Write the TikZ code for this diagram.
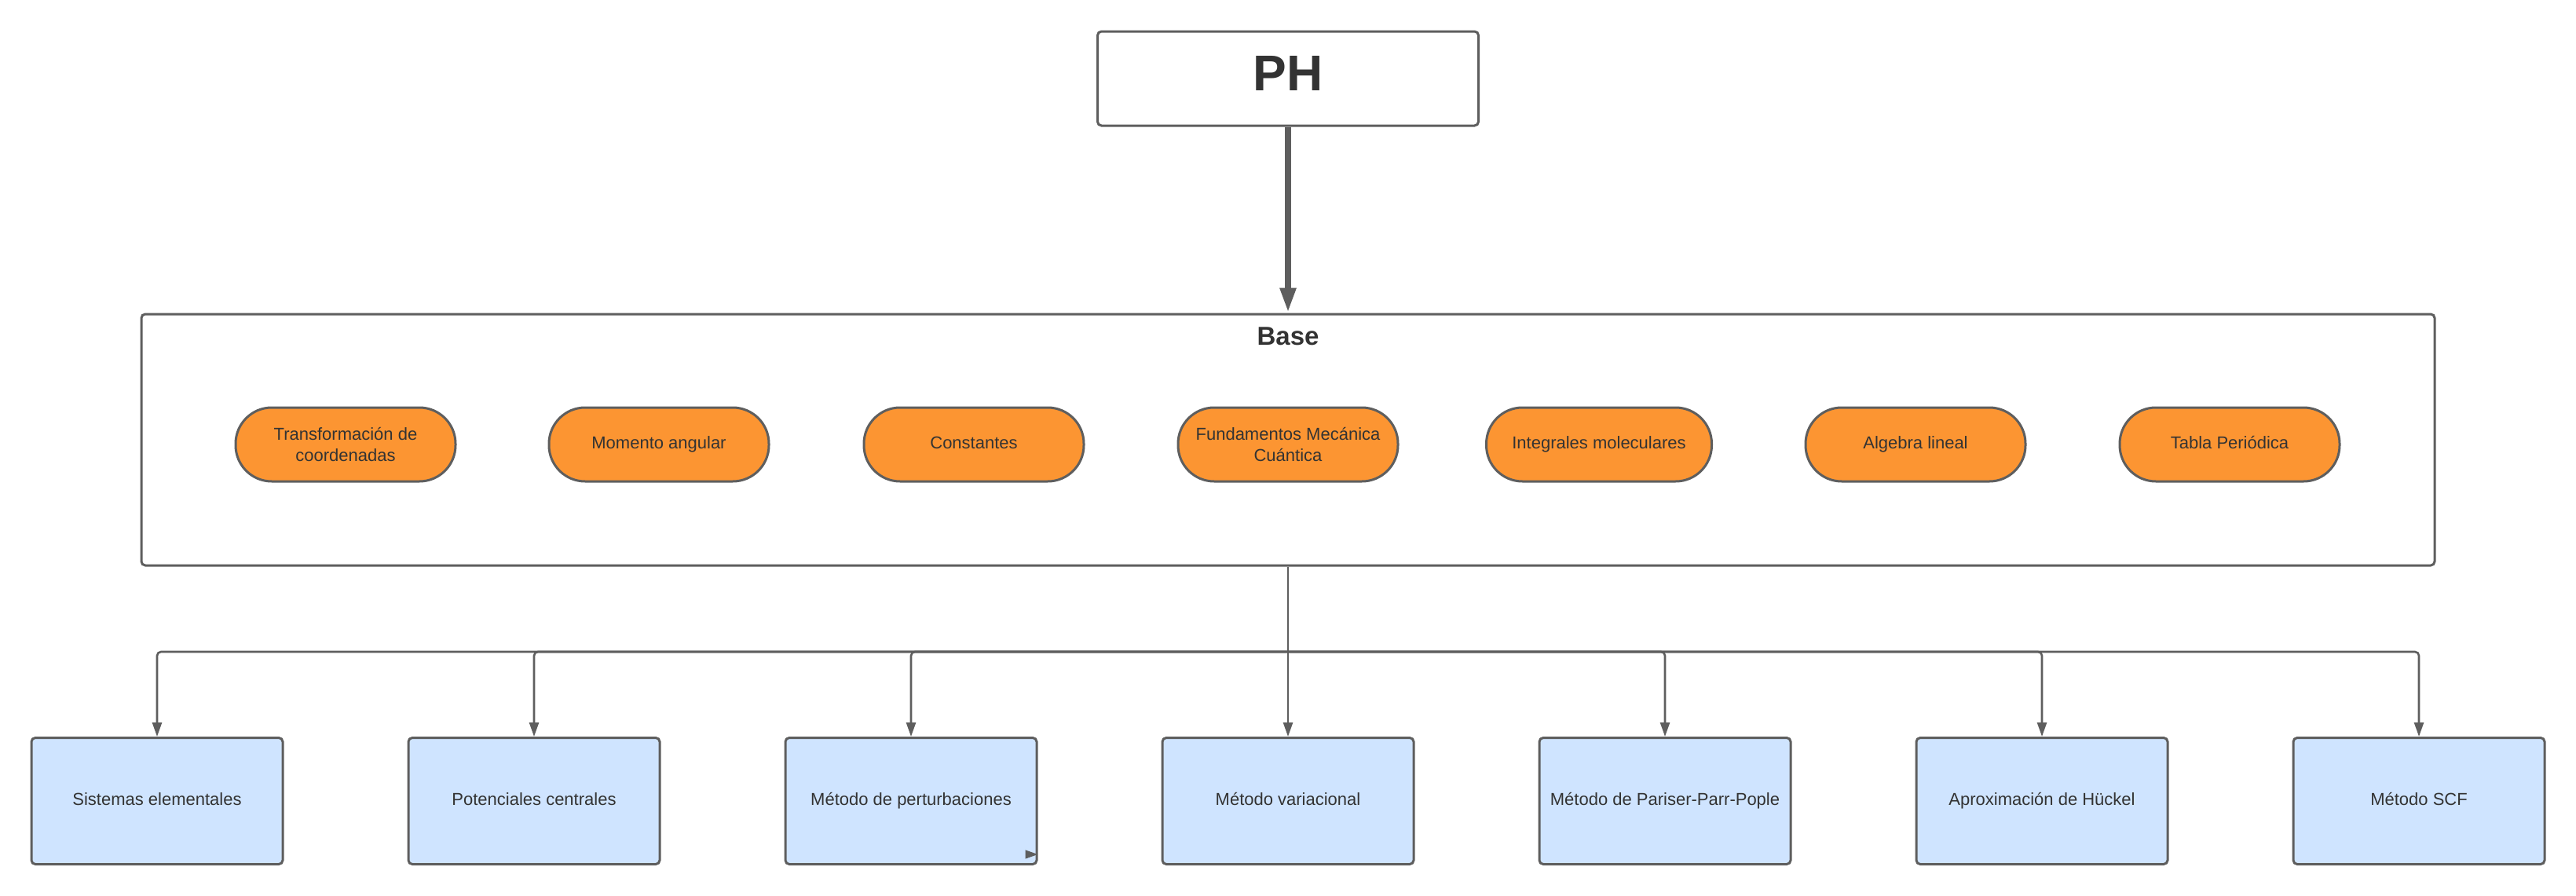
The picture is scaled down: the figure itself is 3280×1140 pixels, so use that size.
\documentclass[tikz,border=0pt]{standalone}
\usepackage{fontspec}
\setmainfont{Liberation Sans}
\usetikzlibrary{arrows.meta,calc}
\definecolor{strokec}{HTML}{5E5E5E}
\definecolor{orangec}{HTML}{FC9532}
\definecolor{bluec}{HTML}{CFE4FF}
\definecolor{textc}{HTML}{333333}
\tikzset{
  mainbox/.style={draw=strokec,line width=1.5pt,rounded corners=2.5pt,fill=white,inner sep=0pt},
  pill/.style={draw=strokec,line width=1.5pt,rounded corners=23pt,fill=orangec,
    minimum width=140pt,minimum height=47pt,inner sep=0pt,align=center,
    font=\fontsize{11pt}{13.5pt}\selectfont,text=textc},
  oneline/.style={text height=7.9pt,text depth=2pt},
  leaf/.style={draw=strokec,line width=1.5pt,rounded corners=2.5pt,fill=bluec,
    minimum width=160pt,minimum height=80.5pt,inner sep=0pt,align=center,
    font=\fontsize{11pt}{13.5pt}\selectfont,text=textc,text height=7.9pt,text depth=2pt},
  conn/.style={draw=strokec,line width=1.3pt,rounded corners=2.5pt,
    -{Triangle[length=9pt,width=6pt]}},
  bigconn/.style={draw=strokec,line width=4pt,
    -{Triangle[length=16pt,width=9.5pt]}},
}
\begin{document}
\begin{tikzpicture}[x=0.5pt,y=-0.5pt]
\useasboundingbox (0,0) rectangle (3280,1140);
% top node
\node[mainbox,minimum width=242.5pt,minimum height=60pt] (ph) at (1640,100) {};
\node[font=\bfseries\fontsize{32pt}{36pt}\selectfont,text=textc,inner sep=0pt] (phlabel) at (1640,93) {PH};
% base container
\node[mainbox,minimum width=1460pt,minimum height=160pt] (base) at (1640,560) {};
\node[font=\bfseries\fontsize{16.5pt}{19pt}\selectfont,text=textc,inner sep=0pt] (baselabel) at (1640,428) {Base};
% pills
\node[pill] (o1) at (440,566) {Transformación de\\coordenadas};
\node[pill,oneline] (o2) at (839,566) {Momento angular};
\node[pill,oneline] (o3) at (1240,566) {Constantes};
\node[pill] (o4) at (1640,566) {Fundamentos Mecánica\\Cuántica};
\node[pill,oneline,minimum width=143.5pt] (o5) at (2036,566) {Integrales moleculares};
\node[pill,oneline] (o6) at (2439,566) {Algebra lineal};
\node[pill,oneline] (o7) at (2839,566) {Tabla Periódica};
% leaves
\node[leaf] (b1) at (200,1020) {Sistemas elementales};
\node[leaf] (b2) at (680,1020) {Potenciales centrales};
\node[leaf] (b3) at (1160,1020) {Método de perturbaciones};
\node[leaf] (b4) at (1640,1020) {Método variacional};
\node[leaf] (b5) at (2120,1020) {Método de Pariser-Parr-Pople};
\node[leaf] (b6) at (2600,1020) {Aproximación de Hückel};
\node[leaf] (b7) at (3080,1020) {Método SCF};
% connectors
\draw[bigconn] (ph.south) -- (base.north);
\coordinate (split) at (1640,830);
\draw[conn] (base.south) -- (b4.north);
\foreach \b in {b1,b2,b3,b5,b6,b7}{
  \draw[conn] (split) -| (\b.north);
}
% stray arrow tip on b3
\coordinate (stubend) at ($(b3.south east)+(0,-14)$);
\coordinate (stubstart) at ($(b3.south east)+(-2,-14)$);
\draw[draw=strokec,line width=0.5pt,-{Triangle[length=8pt,width=5.5pt]}] (stubstart) -- (stubend);
\end{tikzpicture}
\end{document}
